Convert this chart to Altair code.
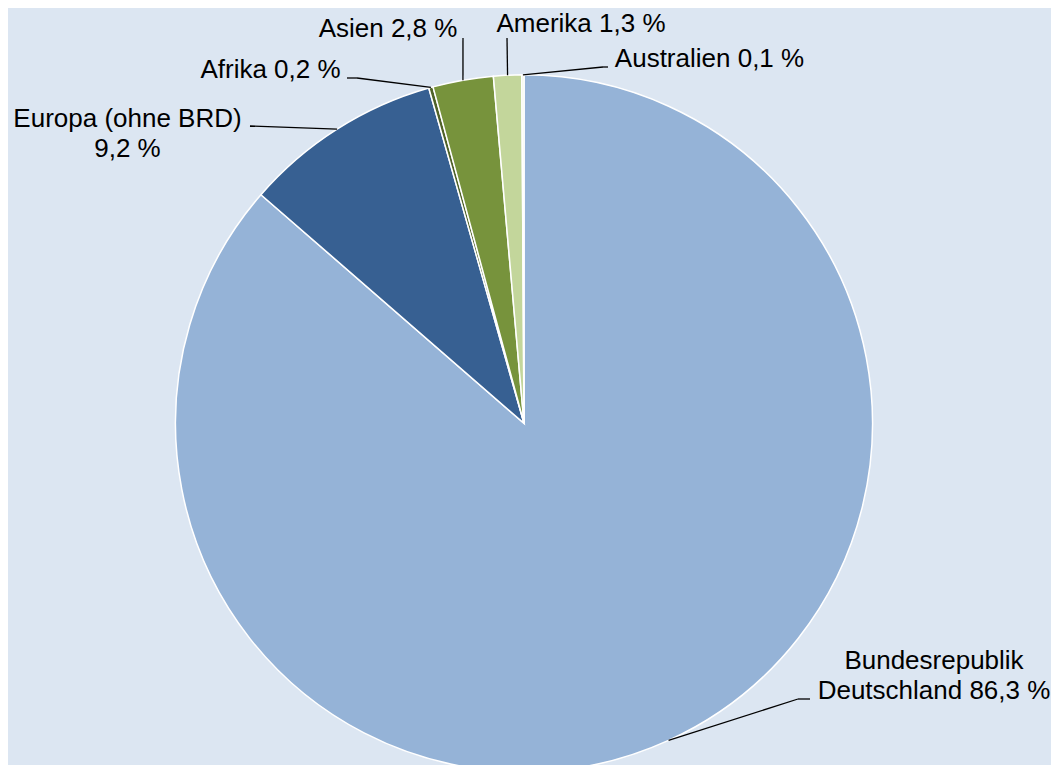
import altair as alt
import pandas as pd

# ---- data ----
kontinente = ["Bundesrepublik Deutschland", "Europa (ohne BRD)", "Afrika", "Asien", "Amerika", "Australien"]
anteile = [86.3, 9.2, 0.2, 2.8, 1.3, 0.1]
reihenfolge = [0, 1, 2, 3, 4, 5]
label_vorlagen = [
    "Bundesrepublik\nDeutschland {v}",
    "Europa (ohne BRD)\n{v}",
    "Afrika {v}",
    "Asien {v}",
    "Amerika {v}",
    "Australien {v}",
]

# ---- styles / layout (chart pixel coordinates) ----
farben = ["#95b3d7", "#376092", "#4f6228", "#77933c", "#c3d69b", "#ebf1de"]
CX, CY, R = 516, 415.3, 348.5
label_x = [926, 119.5, 262.5, 380, 573, 701.5]
label_y = [661, 119, 70, 29, 24, 59]
knick_x = [790, 242, 349, 455, 499, 595]
knick_y = [691, 118, 70, 30, 30, 59]
ende_x = [802, 242, 339, 455, 499, 600]
ende_y = [691, 118, 70, 30, 30, 59]
FONT = "Liberation Sans"
FSIZE = 26


def fmt(v):
    return f"{v:.1f}".replace(".", ",") + " %"


df = pd.DataFrame({
    "kontinent": kontinente,
    "anteil": anteile,
    "ord": reihenfolge,
    "label": [t.format(v=fmt(v)).split("\n") for t, v in zip(label_vorlagen, anteile)],
    "lx": label_x,
    "ly": label_y,
    "kx": knick_x,
    "ky": knick_y,
    "ex2": ende_x,
    "ey2": ende_y,
})

base = alt.Chart(df)

pie = base.mark_arc(radius=R, stroke="white", strokeWidth=1.5).encode(
    theta=alt.Theta("anteil:Q", stack=True),
    order=alt.Order("ord:Q"),
    color=alt.Color("kontinent:N", scale=alt.Scale(domain=kontinente, range=farben), legend=None),
    x=alt.value(CX),
    y=alt.value(CY),
)

geo = base.transform_window(
    cum="sum(anteil)", sort=[alt.SortField("ord")], frame=[None, 0]
).transform_joinaggregate(
    total="sum(anteil)"
).transform_calculate(
    mid=f"(datum.cum - datum.anteil/2)/datum.total*2*PI"
).transform_calculate(
    px=f"{CX} + {R}*sin(datum.mid)",
    py=f"{CY} - {R}*cos(datum.mid)",
)

leader1 = geo.mark_rule(color="black", strokeWidth=1.3).encode(
    x=alt.X("px:Q", scale=None),
    y=alt.Y("py:Q", scale=None),
    x2="kx:Q",
    y2="ky:Q",
)
leader2 = base.mark_rule(color="black", strokeWidth=1.3).encode(
    x=alt.X("kx:Q", scale=None),
    y=alt.Y("ky:Q", scale=None),
    x2="ex2:Q",
    y2="ey2:Q",
)

labels = base.mark_text(
    font=FONT, fontSize=FSIZE, color="black", align="center", baseline="alphabetic", lineHeight=30
).encode(
    x=alt.X("lx:Q", scale=None),
    y=alt.Y("ly:Q", scale=None),
    text="label",
)

chart = alt.layer(pie, leader1, leader2, labels).properties(
    width=1043, height=757, padding=0, autosize=alt.AutoSizeParams(type="none"),
    background="#dce6f2",
).configure_view(stroke=None)

chart.save("out.html", embed_options={"renderer": "svg", "actions": False})
